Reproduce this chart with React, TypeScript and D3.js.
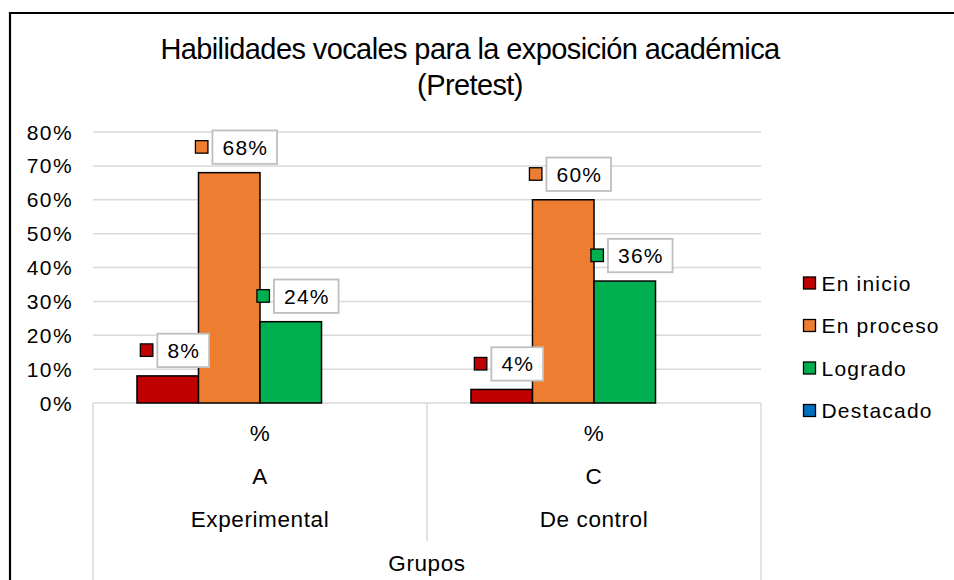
import React, { useEffect, useRef } from "react";
import * as d3 from "d3";

const categories = ["Experimental", "De control"];
const subCategories = ["A", "C"];
const units = ["%", "%"];
const axisTitle = "Grupos";
const seriesNames = ["En inicio", "En proceso", "Logrado", "Destacado"];
const seriesColors = ["#C00000", "#ED7D31", "#00B050", "#0070C0"];
const enInicio = [0.08, 0.04];
const enProceso = [0.68, 0.6];
const logrado = [0.24, 0.36];
const destacado = [0, 0];
const yTicks = [0, 0.1, 0.2, 0.3, 0.4, 0.5, 0.6, 0.7, 0.8];
const titleLines = ["Habilidades vocales para la exposición académica", "(Pretest)"];

const FONT = "'Liberation Sans', Arial, sans-serif";

export default function App() {
  const ref = useRef<SVGSVGElement>(null);

  useEffect(() => {
    const svg = d3.select(ref.current);
    svg.selectAll("*").remove();
    const W = 954, H = 580;
    const left = 93, right = 761, top = 132, bottom = 403;
    const seriesValues = [enInicio, enProceso, logrado, destacado];

    // frame
    svg.append("rect").attr("x", 0).attr("y", 0).attr("width", W).attr("height", H).attr("fill", "#fff");
    svg.append("path").attr("d", `M10,${H + 5} L10,13 L${W + 5},13`).attr("fill", "none").attr("stroke", "#000").attr("stroke-width", 2.2);

    // title
    titleLines.forEach((t, i) => {
      svg.append("text").attr("x", 470).attr("y", 59 + i * 36).attr("text-anchor", "middle")
        .attr("font-family", FONT).attr("font-size", 29).attr("letter-spacing", -0.6)
        .attr("fill", "#000").text(t);
    });

    const y = d3.scaleLinear().domain([0, 0.8]).range([bottom, top]);
    const x0 = d3.scaleBand<string>().domain(categories).range([left, right]).padding(0);
    const bw = x0.bandwidth() / (seriesNames.length + 1.43);
    const x1 = d3.scaleBand<string>().domain(seriesNames).range([0, bw * seriesNames.length]).padding(0);
    const groupOffset = (x0.bandwidth() - bw * seriesNames.length) / 2;

    // gridlines
    svg.append("g").selectAll("line").data(yTicks.filter((t) => t > 0)).join("line")
      .attr("x1", left).attr("x2", right).attr("y1", (d) => y(d)).attr("y2", (d) => y(d))
      .attr("stroke", "#D9D9D9").attr("stroke-width", 1.5);

    // y labels
    svg.append("g").selectAll("text").data(yTicks).join("text")
      .attr("x", 73).attr("y", (d) => y(d) + 7.5).attr("text-anchor", "end")
      .attr("font-family", FONT).attr("font-size", 21).attr("letter-spacing", 1.4)
      .attr("fill", "#000").text((d) => d3.format(".0%")(d));

    // category axis lines
    const ax = svg.append("g").attr("stroke", "#D9D9D9").attr("stroke-width", 1.5);
    ax.append("line").attr("x1", left).attr("x2", right).attr("y1", bottom).attr("y2", bottom);
    ax.append("line").attr("x1", left).attr("x2", left).attr("y1", bottom).attr("y2", H + 5);
    ax.append("line").attr("x1", right).attr("x2", right).attr("y1", bottom).attr("y2", H + 5);
    categories.slice(1).forEach((c) => {
      const xx = x0(c)!;
      ax.append("line").attr("x1", xx).attr("x2", xx).attr("y1", bottom).attr("y2", 541);
    });

    // category labels
    const catText = (txt: string, cx: number, cy: number) =>
      svg.append("text").attr("x", cx).attr("y", cy).attr("text-anchor", "middle")
        .attr("font-family", FONT).attr("font-size", 22.5).attr("letter-spacing", 0.6)
        .attr("fill", "#000").text(txt);
    categories.forEach((c, i) => {
      const cx = x0(c)! + x0.bandwidth() / 2;
      catText(units[i], cx, 441);
      catText(subCategories[i], cx, 484);
      catText(c, cx, 527);
    });
    catText(axisTitle, (left + right) / 2, 571);

    // bars
    const bars: { cat: string; s: number; v: number }[] = [];
    categories.forEach((c, ci) => seriesNames.forEach((s, si) => bars.push({ cat: c, s: si, v: seriesValues[si][ci] })));
    const barX = (b: { cat: string; s: number }) => x0(b.cat)! + groupOffset + x1(seriesNames[b.s])!;
    svg.append("g").selectAll("rect").data(bars.filter((b) => b.v > 0)).join("rect")
      .attr("x", (b) => barX(b)).attr("width", bw)
      .attr("y", (b) => y(b.v)).attr("height", (b) => y(0) - y(b.v))
      .attr("fill", (b) => seriesColors[b.s]).attr("stroke", "#000").attr("stroke-width", 1.5);

    // data labels
    const lg = svg.append("g");
    bars.filter((b) => b.v > 0).forEach((b) => {
      const cx = barX(b) + bw / 2;
      const cy = y(b.v) - 25.5;
      const g = lg.append("g");
      const t = g.append("text").attr("font-family", FONT).attr("font-size", 21).attr("letter-spacing", 1.2)
        .attr("fill", "#000").text(d3.format(".0%")(b.v));
      const tw = (t.node() as SVGTextElement).getComputedTextLength();
      const pad = 9.5;
      const boxW = tw + 2 * pad;
      const boxH = 33.4;
      const total = 13 + 4 + boxW;
      const lx = cx + 7 - total / 2;
      g.insert("rect", "text").attr("x", lx + 17).attr("y", cy - boxH / 2).attr("width", boxW).attr("height", boxH)
        .attr("fill", "#fff").attr("stroke", "#BFBFBF").attr("stroke-width", 1.8);
      g.append("rect").attr("x", lx).attr("y", cy - 6.5).attr("width", 12.5).attr("height", 12.5)
        .attr("fill", seriesColors[b.s]).attr("stroke", "#000").attr("stroke-width", 1.3);
      t.attr("x", lx + 17 + pad + 0.6).attr("y", cy + 7.5);
    });

    // legend
    const leg = svg.append("g");
    seriesNames.forEach((s, i) => {
      const cy = 283 + i * 42.5;
      leg.append("rect").attr("x", 803.5).attr("y", cy - 6).attr("width", 12).attr("height", 12)
        .attr("fill", seriesColors[i]).attr("stroke", "#000").attr("stroke-width", 1.3);
      leg.append("text").attr("x", 821.5).attr("y", cy + 7.5).attr("font-family", FONT).attr("font-size", 21)
        .attr("letter-spacing", 1.2).attr("fill", "#000").text(s);
    });
  }, []);

  return (
    <svg ref={ref} width={954} height={580} style={{ position: "absolute", left: 0, top: 0, display: "block" }} />
  );
}
